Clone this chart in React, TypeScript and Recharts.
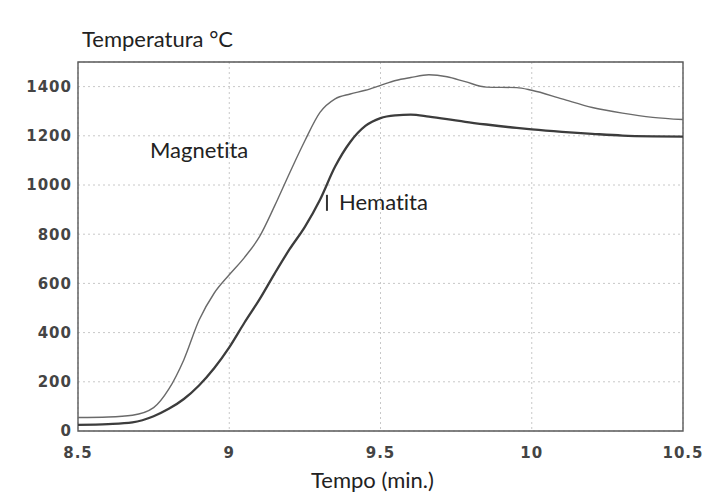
import React from 'react';
import { LineChart, Line, XAxis, YAxis, CartesianGrid, ReferenceArea, ReferenceLine } from 'recharts';

// time (min.) and temperature (°C) readings for both ores
const tempo = [
  8.5, 8.6, 8.68, 8.75, 8.8, 8.85, 8.9, 8.95, 9.0, 9.05, 9.1, 9.15, 9.2, 9.25, 9.3, 9.35,
  9.4, 9.45, 9.5, 9.55, 9.6, 9.66, 9.72, 9.78, 9.85, 9.95, 10.0, 10.1, 10.2, 10.3, 10.4, 10.5,
];
const magnetita = [
  55, 57, 64, 95, 170, 290, 450, 560, 635, 705, 790, 915, 1050, 1180, 1295, 1350,
  1370, 1385, 1405, 1425, 1437, 1448, 1440, 1420, 1398, 1396, 1385, 1350, 1315, 1292, 1275, 1266,
];
const hematita = [
  25, 28, 35, 60, 90, 130, 185, 255, 340, 440, 535, 640, 740, 830, 940, 1075,
  1175, 1240, 1272, 1283, 1286, 1278, 1268, 1257, 1246, 1232, 1226, 1216, 1208, 1201, 1198, 1197,
];
const xTicks = [8.5, 9, 9.5, 10, 10.5];
const yTicks = [0, 200, 400, 600, 800, 1000, 1200, 1400];

const data = tempo.map((t, i) => ({ t, magnetita: magnetita[i], hematita: hematita[i] }));

const tickStyle = { fontFamily: 'DejaVu Sans', fontWeight: 700, fontSize: 15, fill: '#444', letterSpacing: 1 };
const titleFont = { fontFamily: 'Lato', fontSize: 22, fill: '#222', style: { fontVariantLigatures: 'none' as const } };

export default function App() {
  return (
    <div style={{ position: 'absolute', left: 0, top: 0, width: 703, height: 495, background: '#fff' }}>
      <LineChart width={703} height={495} data={data} margin={{ top: 62, right: 20, bottom: 34, left: 18 }}>
        <CartesianGrid stroke="#c8c8c8" strokeDasharray="2 3" />
        <XAxis
          dataKey="t"
          type="number"
          domain={[8.5, 10.5]}
          ticks={xTicks}
          height={30}
          axisLine={false}
          tickLine={false}
          tickSize={0}
          tickMargin={16}
          tick={tickStyle}
          interval={0}
        />
        <YAxis
          type="number"
          domain={[0, 1500]}
          ticks={yTicks}
          width={60}
          axisLine={false}
          tickLine={false}
          tickSize={0}
          tickMargin={6}
          tick={tickStyle}
          interval={0}
        />
        <ReferenceArea x1={8.5} x2={10.5} y1={0} y2={1500} fill="none" stroke="#5a5a5a" strokeWidth={1.4} />
        <ReferenceLine segment={[{ x: 9.323, y: 895 }, { x: 9.323, y: 960 }]} stroke="#333" strokeWidth={2} />
        <Line
          type="monotone"
          dataKey="magnetita"
          stroke="#6a6a6a"
          strokeWidth={1.4}
          dot={false}
          isAnimationActive={false}
        />
        <Line
          type="monotone"
          dataKey="hematita"
          stroke="#3c3c3c"
          strokeWidth={2.3}
          dot={false}
          isAnimationActive={false}
        />
      </LineChart>
      <svg width={703} height={495} style={{ position: 'absolute', left: 0, top: 0, pointerEvents: 'none' }}>
        <text x={82} y={47} {...titleFont}>Temperatura °C</text>
        <text x={150} y={158} {...titleFont}>Magnetita</text>
        <text x={339} y={210} {...titleFont}>Hematita</text>
        <text x={311} y={488} {...titleFont}>Tempo (min.)</text>
      </svg>
    </div>
  );
}
